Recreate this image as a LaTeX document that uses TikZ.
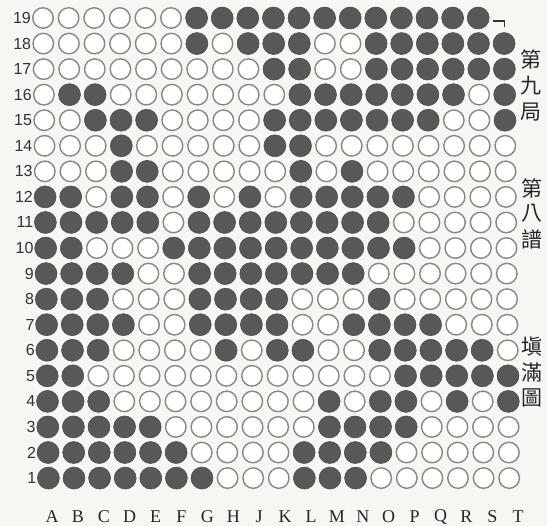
\documentclass[tikz,border=0pt]{standalone}
\usepackage{fontspec}
\setmainfont{Liberation Serif}
\newfontfamily\numfont{Liberation Sans}
\newfontfamily\cjkfont{Noto Sans CJK TC}
\definecolor{paper}{RGB}{246,246,243}
\definecolor{stoneblk}{RGB}{88,88,86}
\definecolor{ringgray}{RGB}{135,135,133}
\begin{document}
\begin{tikzpicture}[x=1pt,y=-1pt,
  bstone/.style={circle,fill=stoneblk,draw=stoneblk!80!black,line width=0.5pt,minimum size=22pt,inner sep=0pt},
  wstone/.style={circle,fill=white,draw=ringgray,line width=1.4pt,minimum size=20.5pt,inner sep=0pt},
  nstone/.style={circle,minimum size=22pt,inner sep=0pt},
  rowlab/.style={font=\numfont\fontsize{16}{16}\selectfont,anchor=east,text=black!80,inner sep=0pt},
  collab/.style={font=\fontsize{18}{18}\selectfont,inner sep=0pt,text=black!85},
  cjk/.style={font=\cjkfont\fontsize{21}{21}\selectfont,inner sep=0pt,text=black!85}]
\fill[paper] (0,0) rectangle (547,526);
\useasboundingbox (0,0) rectangle (547,526);
\foreach \row [count=\i] in {
 {w,w,w,w,w,w,b,b,b,b,b,b,b,b,b,b,b,b,n},
 {w,w,w,w,w,w,b,w,b,b,b,w,w,b,b,b,b,b,b},
 {w,w,w,w,w,w,w,w,w,b,b,w,w,b,b,b,b,b,b},
 {w,b,b,w,w,w,w,w,w,w,b,b,b,b,b,b,b,w,b},
 {w,w,b,b,b,w,w,w,w,b,b,b,b,b,b,b,w,w,b},
 {w,w,w,b,w,w,w,w,w,b,b,w,w,w,w,w,w,w,w},
 {w,w,w,b,b,w,w,w,w,w,b,w,b,w,w,w,w,w,w},
 {b,b,w,b,b,w,b,w,b,w,b,b,b,b,b,w,w,w,w},
 {b,b,b,b,b,w,b,b,b,b,b,b,b,b,w,w,w,w,w},
 {b,b,w,w,w,b,b,b,b,b,b,b,b,b,b,w,w,w,w},
 {b,b,b,b,w,w,b,b,b,b,b,b,b,w,w,w,w,w,w},
 {b,b,b,w,w,w,b,b,b,b,w,w,w,b,w,w,w,w,w},
 {b,b,b,b,w,w,b,b,b,b,w,w,b,b,b,b,w,w,w},
 {b,b,b,w,w,w,w,b,w,b,b,w,w,b,b,b,b,b,w},
 {b,b,w,w,w,w,w,w,w,w,w,w,w,w,b,b,b,b,b},
 {b,b,b,w,w,w,w,w,w,w,w,b,w,b,b,w,b,w,b},
 {b,b,b,b,b,w,w,w,w,w,w,b,b,b,b,w,w,w,w},
 {b,b,b,b,b,b,w,w,w,w,b,b,b,b,w,w,w,w,w},
 {b,b,b,b,b,b,b,w,w,w,b,b,b,w,w,w,w,w,w}} {
  \pgfmathtruncatemacro\r{20-\i}
  \pgfmathsetmacro\yy{18+(\i-1)*25.56}
  \pgfmathsetmacro\xo{43+(\i-1)*0.3}
  \node[rowlab] (r\r) at (\xo-12,\yy) {\r};
  \foreach \s [count=\c from 0] in \row {
    \node[\s stone] (s-\c-\r) at (\xo+25.6*\c,\yy) {};
  }
}
% corner mark at T19
\coordinate (m1) at ([xshift=-11pt,yshift=-3pt]s-18-19.center);
\coordinate (m2) at ([xshift=1pt,yshift=-3pt]s-18-19.center);
\coordinate (m3) at ([xshift=1pt,yshift=-9pt]s-18-19.center);
\draw[line width=1.3pt,black!80] (m1) -- (m2) -- (m3);
% column letters
\foreach \L [count=\c from 0] in {A,B,C,D,E,F,G,H,J,K,L,M,N,O,P,Q,R,S,T} {
  \node[collab] (c\c) at (52+25.9*\c,517) {\L};
}
% side captions
\node[cjk] (t1) at (531,59) {第};
\node[cjk] (t2) at (531,86) {九};
\node[cjk] (t3) at (531,112) {局};
\node[cjk] (t4) at (532,188) {第};
\node[cjk] (t5) at (532,213) {八};
\node[cjk] (t6) at (532,239) {譜};
\node[cjk] (t7) at (532,347) {塡};
\node[cjk] (t8) at (532,372) {滿};
\node[cjk] (t9) at (532,398) {圖};
\end{tikzpicture}
\end{document}
